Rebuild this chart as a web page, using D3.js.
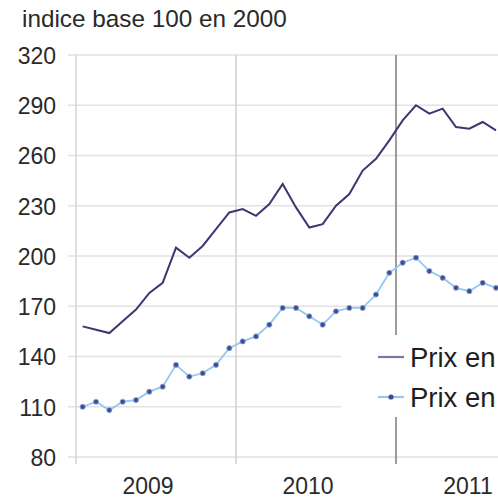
<!DOCTYPE html>
<html>
<head>
<meta charset="utf-8">
<script src="https://cdn.jsdelivr.net/npm/d3@7"></script>
<style>
  html, body { margin: 0; padding: 0; background: #fff; }
  svg { display: block; font-family: "Liberation Sans", Arial, sans-serif; }
  .axis path { display: none; }
  .axis text { fill: #2a2a2a; }
</style>
</head>
<body>
<div id="chart"></div>
<script>
// months shown on the category axis (2009 - 2011)
var months = [
    "2009-01", "2009-02", "2009-03", "2009-04", "2009-05", "2009-06",
    "2009-07", "2009-08", "2009-09", "2009-10", "2009-11", "2009-12",
    "2010-01", "2010-02", "2010-03", "2010-04", "2010-05", "2010-06",
    "2010-07", "2010-08", "2010-09", "2010-10", "2010-11", "2010-12",
    "2011-01", "2011-02", "2011-03", "2011-04", "2011-05", "2011-06",
    "2011-07", "2011-08", "2011-09", "2011-10", "2011-11", "2011-12"
];
var years = ["2009", "2010", "2011"];
var yTickValues = [80, 110, 140, 170, 200, 230, 260, 290, 320];

// dark line (first legend entry) and light line with markers (second entry)
var prixDollars = [
    158, 156, 154, 161, 168, 178, 184, 205, 199, 206, 216, 226,
    228, 224, 231, 243, 229, 217, 219, 230, 237, 251, 258, 269,
    281, 290, 285, 288, 277, 276, 280, 275
];
var prixEuros = [
    110, 113, 108, 113, 114, 119, 122, 135, 128, 130, 135, 145,
    149, 152, 159, 169, 169, 164, 159, 167, 169, 169, 177, 190,
    196, 199, 191, 187, 181, 179, 184, 181
];

// legend text as visible in the (cropped) chart
var legendLabels = ["Prix en", "Prix en"];
var title = "indice base 100 en 2000";

var w = 498, h = 502;

var svg = d3.select("#chart")
    .append("svg")
    .attr("width", w)
    .attr("height", h);

var x = d3.scaleBand()
    .domain(months)
    .range([76, 76 + 36 * 160 / 12]);

var xYear = d3.scaleBand()
    .domain(years)
    .range([76, 76 + 3 * 160]);

var y = d3.scaleLinear()
    .domain([80, 320])
    .range([457, 55]);

var cx = d => x(d) + x.bandwidth() / 2;

// title
svg.append("text")
    .attr("x", 22)
    .attr("y", 27)
    .attr("font-size", 24.3)
    .attr("fill", "#2a2a2a")
    .text(title);

// horizontal gridlines (tick stubs start left of the axis)
svg.append("g")
    .selectAll("line")
    .data(yTickValues)
    .enter()
    .append("line")
    .attr("x1", 68)
    .attr("x2", w)
    .attr("y1", d => y(d))
    .attr("y2", d => y(d))
    .attr("stroke", "#e2e2e2")
    .attr("stroke-width", 1.5);

// vertical lines: left axis + year boundaries
var vlines = [
    {x: x.range()[0], color: "#d4d4d4"},
    {x: xYear("2010"), color: "#cfcfcf"},
    {x: xYear("2011"), color: "#7c7c7c"}
];
svg.append("g")
    .selectAll("line")
    .data(vlines)
    .enter()
    .append("line")
    .attr("x1", d => d.x)
    .attr("x2", d => d.x)
    .attr("y1", y(320))
    .attr("y2", y(80) + 7)
    .attr("stroke", d => d.color)
    .attr("stroke-width", 1.5);

// y axis labels
var yAxis = d3.axisLeft(y)
    .tickValues(yTickValues)
    .tickSize(0)
    .tickPadding(0);

svg.append("g")
    .attr("class", "axis axis--y")
    .attr("transform", "translate(56,0)")
    .call(yAxis)
    .selectAll("text")
    .attr("font-size", 23)
    .attr("dy", "0.36em");

// x axis year labels
var xAxis = d3.axisBottom(xYear)
    .tickSize(0)
    .tickPadding(0);

svg.append("g")
    .attr("class", "axis axis--x")
    .attr("transform", "translate(-8," + 478 + ")")
    .call(xAxis)
    .selectAll("text")
    .attr("font-size", 23)
    .attr("dy", "0.7em");

// series
var line_gen = d3.line()
    .x((d, i) => cx(months[i]))
    .y(d => y(d));

svg.append("path")
    .attr("d", line_gen(prixEuros))
    .attr("fill", "none")
    .attr("stroke", "#93c8ef")
    .attr("stroke-width", 1.8);

svg.append("g")
    .selectAll("circle")
    .data(prixEuros)
    .enter()
    .append("circle")
    .attr("cx", (d, i) => cx(months[i]))
    .attr("cy", d => y(d))
    .attr("r", 2.6)
    .attr("fill", "#3f4c92")
    .attr("stroke", "#8fb0dc")
    .attr("stroke-width", 0.8);

svg.append("path")
    .attr("d", line_gen(prixDollars))
    .attr("fill", "none")
    .attr("stroke", "#3c3672")
    .attr("stroke-width", 2);

// legend box
var legend = svg.append("g");

legend.append("rect")
    .attr("x", 341)
    .attr("y", 335)
    .attr("width", w - 341)
    .attr("height", 82)
    .attr("fill", "#fff");

var legendItems = [
    {label: legendLabels[0], color: "#7a74aa", marker: false, y: 357},
    {label: legendLabels[1], color: "#93c8ef", marker: true, y: 397}
];

legendItems.forEach(function(item) {
    legend.append("line")
        .attr("x1", 378)
        .attr("x2", 404)
        .attr("y1", item.y)
        .attr("y2", item.y)
        .attr("stroke", item.color)
        .attr("stroke-width", 2.2);
    if (item.marker) {
        legend.append("circle")
            .attr("cx", 391)
            .attr("cy", item.y)
            .attr("r", 2.6)
            .attr("fill", "#3f4c92");
    }
    legend.append("text")
        .attr("x", 410)
        .attr("y", item.y + 10)
        .attr("font-size", 27.5)
        .attr("fill", "#1e1e1e")
        .text(item.label);
});
</script>
</body>
</html>
